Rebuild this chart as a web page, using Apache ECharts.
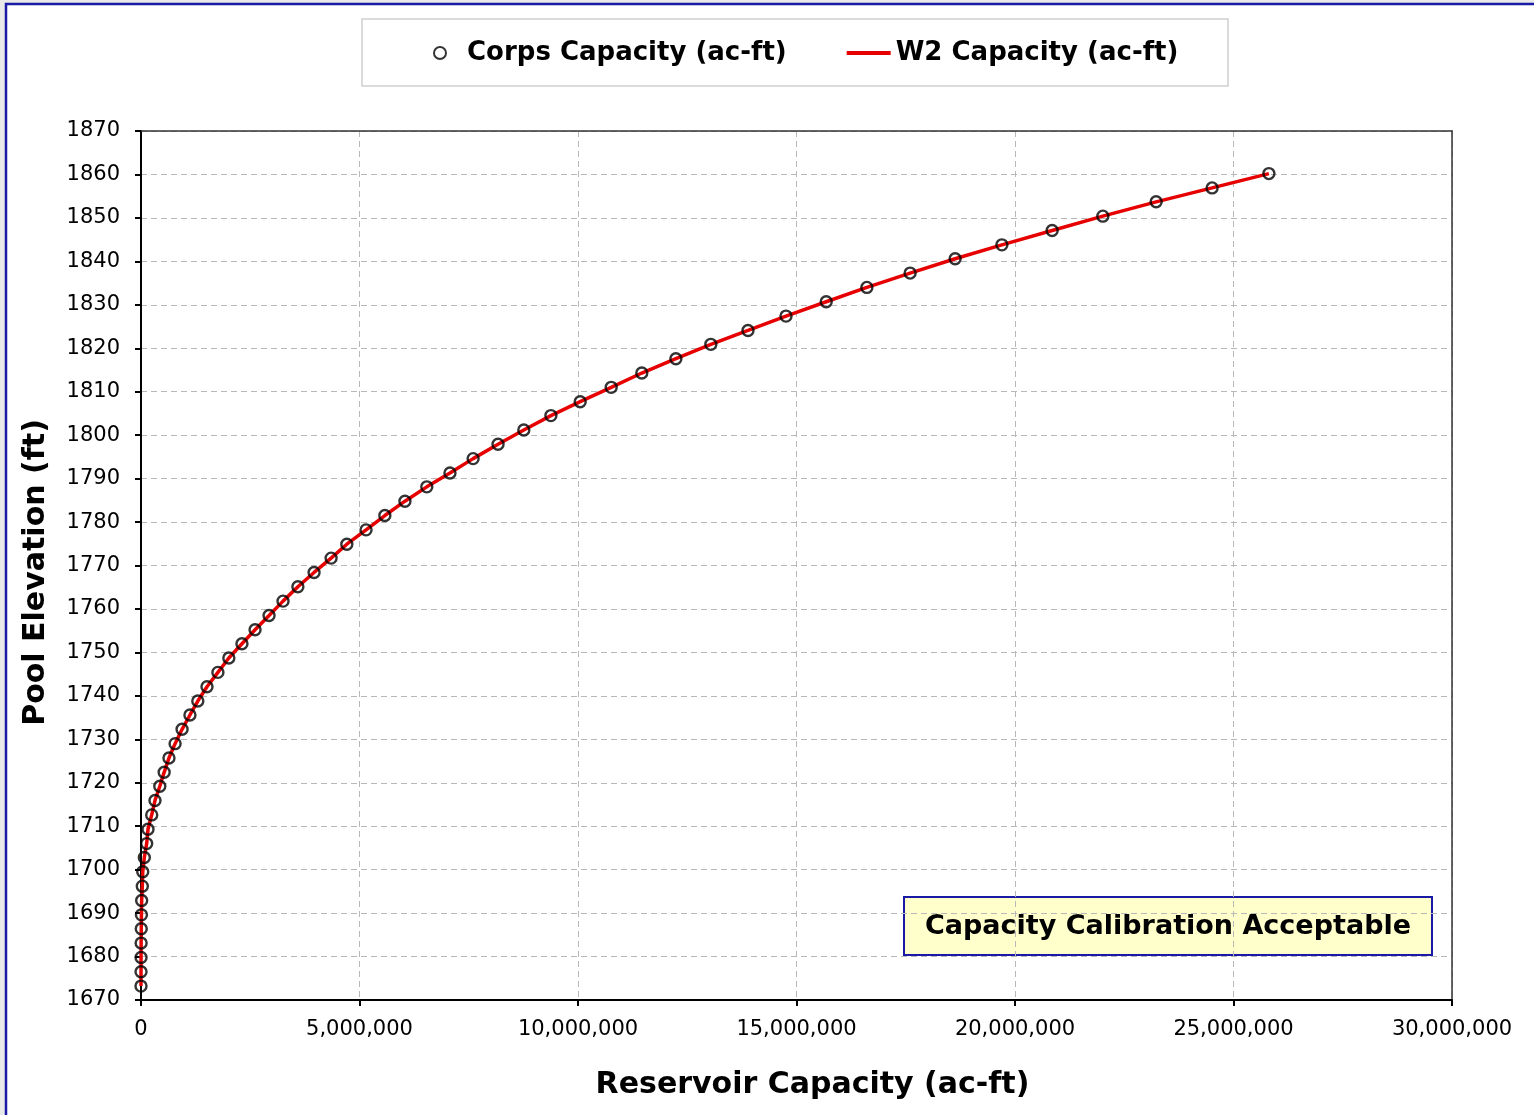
<!DOCTYPE html>
<html>
<head>
<meta charset="utf-8">
<script src="https://cdn.jsdelivr.net/npm/echarts@6/dist/echarts.min.js"></script>
<style>
html,body{margin:0;padding:0;background:#e9e9e9;}
#chart{width:1534px;height:1115px;}
</style>
</head>
<body>
<div id="chart"></div>
<script>
// Pool elevation (ft) of each tabulated point
const elevations = [
  1860.2, 1856.9, 1853.7, 1850.4, 1847.1, 1843.8, 1840.6, 1837.3, 1834.0, 1830.7,
  1827.4, 1824.1, 1820.9, 1817.6, 1814.3, 1811.0, 1807.7, 1804.5, 1801.2, 1797.9,
  1794.6, 1791.3, 1788.1, 1784.8, 1781.5, 1778.2, 1774.9, 1771.7, 1768.4, 1765.1,
  1761.8, 1758.5, 1755.2, 1752.0, 1748.7, 1745.4, 1742.1, 1738.8, 1735.6, 1732.3,
  1729.0, 1725.7, 1722.4, 1719.2, 1715.9, 1712.6, 1709.3, 1706.0, 1702.8, 1699.5,
  1696.2, 1692.9, 1689.6, 1686.4, 1683.1, 1679.8, 1676.5, 1673.2
];
// Corps capacity (ac-ft)
const corpsCapacity = [
  25810000, 24510000, 23230000, 22010000, 20850000, 19700000, 18630000, 17600000, 16610000, 15680000,
  14760000, 13890000, 13040000, 12240000, 11460000, 10760000, 10050000, 9380000, 8760000, 8170000,
  7600000, 7070000, 6540000, 6040000, 5580000, 5150000, 4710000, 4350000, 3960000, 3590000,
  3250000, 2930000, 2610000, 2310000, 2010000, 1760000, 1510000, 1300000, 1120000, 940000,
  780000, 640000, 530000, 430000, 320000, 245000, 160000, 130000, 76000, 40000,
  30000, 15000, 10000, 6000, 3000, 1000, 500, 0
];
// W2 capacity (ac-ft)
const w2Capacity = [
  25810000, 24510000, 23230000, 22010000, 20850000, 19700000, 18630000, 17600000, 16610000, 15680000,
  14760000, 13890000, 13040000, 12240000, 11460000, 10760000, 10050000, 9380000, 8760000, 8170000,
  7600000, 7070000, 6540000, 6040000, 5580000, 5150000, 4710000, 4350000, 3960000, 3590000,
  3250000, 2930000, 2610000, 2310000, 2010000, 1760000, 1510000, 1300000, 1120000, 940000,
  780000, 640000, 530000, 430000, 320000, 245000, 160000, 130000, 76000, 40000,
  30000, 15000, 10000, 6000, 3000, 1000, 500, 0
];
const xTicks = [0, 5000000, 10000000, 15000000, 20000000, 25000000, 30000000];
const yTicks = [1670, 1680, 1690, 1700, 1710, 1720, 1730, 1740, 1750, 1760, 1770, 1780, 1790, 1800, 1810, 1820, 1830, 1840, 1850, 1860, 1870];
const seriesNames = ['Corps Capacity (ac-ft)', 'W2 Capacity (ac-ft)'];
const annotation = 'Capacity Calibration Acceptable';

const corpsData = corpsCapacity.map((v, i) => [v, elevations[i]]);
const w2Data = w2Capacity.map((v, i) => [v, elevations[i]]);

const chart = echarts.init(document.getElementById('chart'), null, {renderer: 'canvas'});
const fmtX = v => String(Math.round(v)).replace(/\B(?=(\d{3})+(?!\d))/g, ',');
const fmtY = v => String(Math.round(v));

chart.setOption({
  animation: false,
  backgroundColor: '#e9e9e9',
  textStyle: {fontFamily: 'DejaVu Sans'},
  graphic: [
    {type: 'rect', z: -10, silent: true, shape: {x: 6, y: 4, width: 1540, height: 1120},
     style: {fill: '#ffffff', stroke: '#1a1aa6', lineWidth: 2.5}},
    {type: 'rect', z: -5, silent: true, shape: {x: 362, y: 19, width: 866, height: 67},
     style: {fill: '#ffffff', stroke: '#cfcfcf', lineWidth: 1.5}},
    {type: 'group', z: 50, left: 903, top: 896, children: [
      {type: 'rect', shape: {x: 0, y: 0, width: 528, height: 58},
       style: {fill: '#ffffcc', stroke: '#1a1aa6', lineWidth: 2}},
      {type: 'text', x: 264, y: 30,
       style: {text: annotation, fill: '#000', font: 'bold 27px "DejaVu Sans"', align: 'center', verticalAlign: 'middle'}}
    ]}
  ],
  legend: {
    left: 428, top: 35,
    itemWidth: 44, itemHeight: 12, itemGap: 60,
    textStyle: {fontFamily: 'DejaVu Sans', fontWeight: 'bold', fontSize: 26, color: '#000'},
    data: [
      {name: seriesNames[0]},
      {name: seriesNames[1], icon: 'path://M0,0L44,0L44,4L0,4Z', itemStyle: {color: '#e60000'}}
    ]
  },
  grid: {left: 141, right: 82, top: 131, bottom: 115, show: false},
  xAxis: [{
    type: 'value', min: xTicks[0], max: xTicks[xTicks.length - 1], interval: 5000000,
    name: 'Reservoir Capacity (ac-ft)', nameLocation: 'middle', nameGap: 70,
    nameTextStyle: {fontFamily: 'DejaVu Sans', fontWeight: 'bold', fontSize: 30, color: '#000', padding: [0, 0, 0, 32]},
    axisLine: {show: true, onZero: false, lineStyle: {color: '#000', width: 2}},
    axisTick: {show: true, inside: false, length: 6, lineStyle: {color: '#000', width: 2}},
    axisLabel: {margin: 19, fontSize: 21, color: '#000', fontFamily: 'DejaVu Sans', formatter: fmtX},
    splitLine: {show: true, lineStyle: {color: '#b8b8b8', type: [6, 4], width: 1}}
  }, {
    type: 'value', position: 'top', min: xTicks[0], max: xTicks[xTicks.length - 1], interval: 5000000,
    axisLine: {show: true, onZero: false, lineStyle: {color: '#333', width: 1.5}},
    axisTick: {show: false}, axisLabel: {show: false}, splitLine: {show: false}
  }],
  yAxis: [{
    type: 'value', min: yTicks[0], max: yTicks[yTicks.length - 1], interval: 10,
    name: 'Pool Elevation (ft)', nameLocation: 'middle', nameGap: 90,
    nameTextStyle: {fontFamily: 'DejaVu Sans', fontWeight: 'bold', fontSize: 30, color: '#000', padding: [0, 14, 0, 0]},
    axisLine: {show: true, onZero: false, lineStyle: {color: '#000', width: 2}},
    axisTick: {show: true, inside: false, length: 6, lineStyle: {color: '#000', width: 2}},
    axisLabel: {margin: 21, fontSize: 21, color: '#000', fontFamily: 'DejaVu Sans', formatter: fmtY},
    splitLine: {show: true, lineStyle: {color: '#b8b8b8', type: [6, 4], width: 1}}
  }, {
    type: 'value', position: 'right', min: yTicks[0], max: yTicks[yTicks.length - 1], interval: 10,
    axisLine: {show: true, onZero: false, lineStyle: {color: '#333', width: 1.5}},
    axisTick: {show: false}, axisLabel: {show: false}, splitLine: {show: false}
  }],
  series: [
    {
      name: seriesNames[1], type: 'line', data: w2Data, symbol: 'none', z: 2,
      lineStyle: {color: '#e60000', width: 3.5}, itemStyle: {color: '#e60000'}
    },
    {
      name: seriesNames[0], type: 'scatter', data: corpsData, symbol: 'circle', symbolSize: 11, z: 3,
      itemStyle: {color: 'rgba(255,255,255,0)', borderColor: '#000', borderWidth: 2.4}
    }
  ]
});
</script>
</body>
</html>
